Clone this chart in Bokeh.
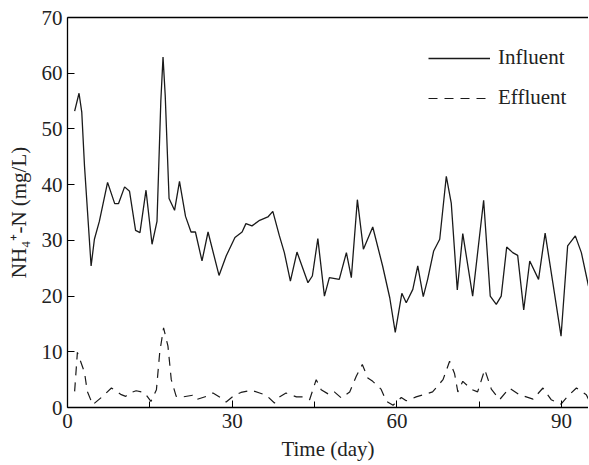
from bokeh.plotting import figure
from bokeh.models import Range1d, LinearAxis, FixedTicker, Legend, LegendItem
from bokeh.embed import file_html
from bokeh.resources import INLINE

# Influent NH4+-N (day, mg/L)
inf_day = [1.3, 2.1, 2.6, 3.1, 4.3, 4.9, 5.8, 7.3, 8.6, 9.3, 10.4, 11.3, 12.4, 13.2, 14.3, 15.4,
           16.3, 17.0, 17.4, 17.8, 18.5, 19.5, 20.4, 21.5, 22.5, 23.3, 24.5, 25.6, 27.6, 28.9, 30.5,
           31.8, 32.5, 33.6, 35.0, 36.5, 37.4, 38.6, 39.5, 40.6, 41.8, 43.8, 44.6, 45.6,
           46.8, 47.7, 49.5, 50.8, 51.7, 52.8, 53.9, 55.6, 57.4, 58.7, 59.7, 60.9, 61.7,
           62.9, 63.8, 64.8, 65.6, 66.7, 67.8, 69.0, 69.9, 71.0, 72.0, 73.8, 75.8, 77.0,
           78.1, 79.0, 80.0, 81.1, 82.0, 83.1, 84.2, 85.8, 87.0, 88.4, 89.9, 91.1, 92.5,
           93.6, 94.9]
inf_val = [53.2, 56.4, 53.0, 43.3, 25.4, 30.2, 33.4, 40.4, 36.6, 36.6, 39.6, 38.8, 31.8, 31.4, 39.0, 29.3,
           33.4, 55.0, 62.9, 56.0, 37.5, 35.4, 40.6, 34.3, 31.5, 31.5, 26.3, 31.5, 23.7, 27.2, 30.5,
           31.5, 33.0, 32.6, 33.6, 34.2, 35.2, 30.8, 27.8, 22.7, 27.9, 22.4, 23.6, 30.3,
           20.0, 23.3, 23.0, 27.8, 23.3, 37.3, 28.4, 32.4, 25.4, 19.7, 13.5, 20.5, 18.8,
           21.2, 25.4, 19.9, 23.0, 28.1, 30.2, 41.5, 36.7, 21.1, 31.2, 20.0, 37.2, 20.0,
           18.5, 20.0, 28.8, 27.8, 27.3, 17.5, 26.3, 23.0, 31.3, 22.4, 12.8, 29.0, 30.8,
           27.8, 21.8]

# Effluent NH4+-N (day, mg/L)
eff_day = [1.3, 1.8, 3.1, 3.6, 4.6, 6.4, 8.0, 9.8, 10.6, 11.3, 12.5, 14.0, 15.2, 16.2, 16.8,
           17.5, 18.3, 18.9, 19.8, 21.0, 22.8, 23.4, 25.3, 26.5, 28.0, 28.9, 30.4, 31.6,
           33.5, 35.0, 36.2, 37.7, 38.6, 39.8, 41.7, 42.9, 44.1, 45.3, 46.2, 47.7, 48.6,
           49.9, 51.4, 52.6, 53.7, 54.7, 55.6, 57.1, 58.1, 59.3, 60.8, 61.7, 63.5, 66.5,
           68.4, 69.6, 70.5, 71.1, 72.0, 73.5, 74.7, 76.0, 77.2, 78.7, 80.5, 82.3, 84.8,
           86.6, 88.1, 89.9, 91.1, 92.7, 94.5, 94.9]
eff_val = [2.9, 9.9, 6.3, 2.9, 0.5, 2.0, 3.5, 2.3, 2.0, 2.6, 3.0, 2.7, 1.1, 3.2, 9.9,
           14.3, 11.0, 5.0, 2.0, 1.9, 2.2, 1.4, 2.0, 2.6, 1.7, 1.0, 2.2, 2.7,
           3.1, 2.6, 2.2, 0.8, 1.9, 2.6, 1.9, 1.9, 1.4, 5.0, 3.2, 2.3, 2.8,
           1.7, 2.8, 5.6, 7.7, 5.3, 4.7, 3.3, 1.1, 0.4, 1.8, 1.2, 1.9, 2.8,
           5.0, 8.3, 6.1, 2.8, 4.7, 3.3, 2.8, 6.8, 3.3, 1.4, 3.5, 2.3, 1.5,
           3.5, 1.4, 0.6, 2.0, 3.5, 2.3, 1.5]

x_major = [0, 30, 60, 90]
x_minor = [15, 45, 75]
y_ticks = [0, 10, 20, 30, 40, 50, 60, 70]
series_names = ["Influent", "Effluent"]

FONT = "Liberation Serif"
FS = "21px"

p = figure(width=588, height=463, output_backend="svg", toolbar_location=None,
           x_range=Range1d(0, 94.9), y_range=Range1d(0, 70),
           min_border_left=67, min_border_right=0, min_border_top=17, min_border_bottom=56)
p.outline_line_color = None
p.grid.visible = False
p.background_fill_color = "white"

r1 = p.line(inf_day, inf_val, line_color="#1a1a1a", line_width=1.3)
r2 = p.line(eff_day, eff_val, line_color="#1a1a1a", line_width=1.2, line_dash="9 7")

for ax in (p.xaxis[0], p.yaxis[0]):
    ax.axis_line_color = "black"
    ax.axis_line_width = 1.3
    ax.major_tick_in = 7
    ax.major_tick_out = 0
    ax.minor_tick_in = 6
    ax.minor_tick_out = 0
    ax.major_tick_line_color = "black"
    ax.minor_tick_line_color = "black"
    ax.major_label_text_font = FONT
    ax.major_label_text_font_size = FS
    ax.major_label_text_color = "#222222"
    ax.axis_label_text_font = FONT
    ax.axis_label_text_font_size = FS
    ax.axis_label_text_font_style = "normal"
    ax.axis_label_text_color = "#222222"

p.xaxis[0].ticker = FixedTicker(ticks=x_major, minor_ticks=x_minor)
p.xaxis[0].major_label_standoff = 6
p.xaxis[0].axis_label = "Time (day)"
p.xaxis[0].axis_label_standoff = 6
p.yaxis[0].ticker = FixedTicker(ticks=y_ticks)
p.yaxis[0].major_label_standoff = 5
p.yaxis[0].minor_tick_line_color = None
p.yaxis[0].axis_label = "NH\u2084\u207a-N (mg/L)"
p.yaxis[0].axis_label_standoff = 8

top = LinearAxis(ticker=FixedTicker(ticks=[]), major_label_text_font_size="0px",
                 axis_line_color="black", axis_line_width=1.3,
                 major_tick_line_color=None, minor_tick_line_color=None)
p.add_layout(top, "above")

legend = Legend(items=[LegendItem(label=series_names[0], renderers=[r1]),
                       LegendItem(label=series_names[1], renderers=[r2])],
                location=(361, 297), padding=0, margin=0, spacing=15,
                glyph_width=62, glyph_height=24, label_height=24, label_standoff=8,
                label_text_font=FONT, label_text_font_size=FS, label_text_color="#222222",
                border_line_color=None, background_fill_alpha=0)
p.add_layout(legend, "center")

open("out.html", "w").write(file_html(p, INLINE))
